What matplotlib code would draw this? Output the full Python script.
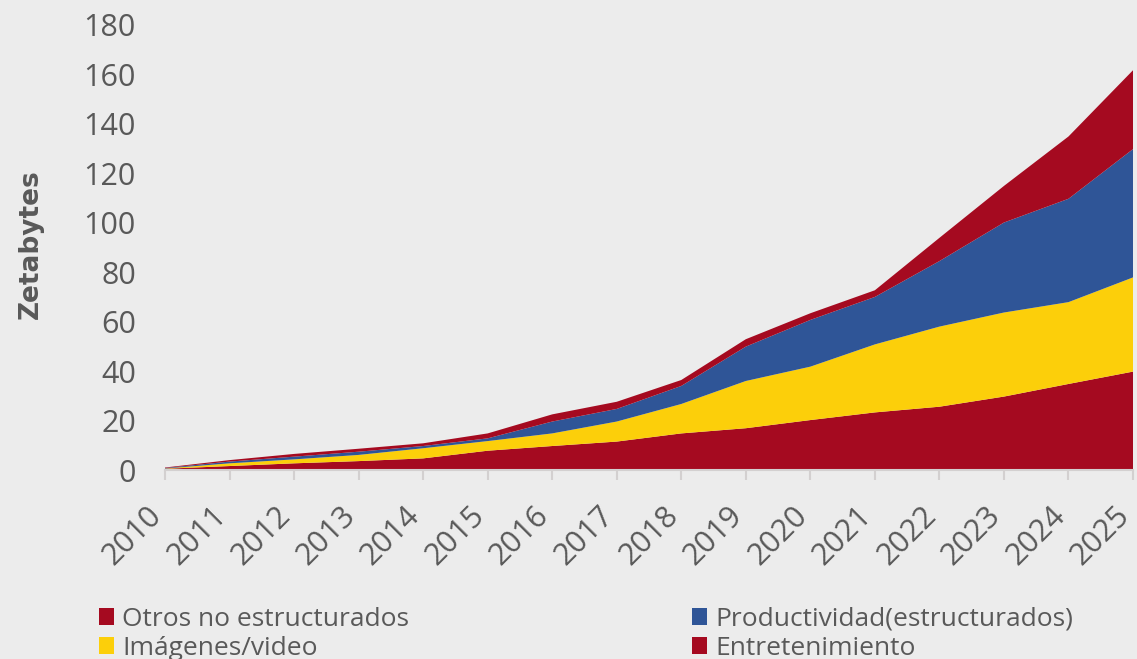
import matplotlib
matplotlib.use("Agg")
import matplotlib.pyplot as plt
import matplotlib.transforms as mtransforms
from matplotlib.patches import Patch

years = list(range(2010, 2026))
entretenimiento = [0.5, 1.6, 2.7, 3.6, 4.7, 7.8, 9.7, 11.5, 14.8, 16.9, 20.2, 23.3, 25.6, 29.7, 34.8, 39.8]
imagenes_video = [0.1, 1.1, 1.6, 2.5, 4.1, 3.9, 5.1, 8.1, 11.9, 19.1, 21.6, 27.5, 32.4, 34.0, 33.1, 38.1]
productividad = [0.2, 0.7, 1.1, 1.3, 0.9, 1.1, 4.8, 5.1, 7.3, 13.9, 18.9, 19.2, 26.5, 36.4, 41.8, 51.9]
otros = [0.2, 0.6, 1.1, 1.2, 1.1, 2.0, 2.9, 2.9, 2.4, 3.0, 2.7, 2.7, 9.4, 14.8, 25.2, 31.9]

series_names = ["Entretenimiento", "Imágenes/video", "Productividad(estructurados)", "Otros no estructurados"]
colors = ["#A50A20", "#FCCF0A", "#2F5597", "#A50A20"]
yticks = list(range(0, 181, 20))

BG = "#ececec"
TXT = "#595959"
FONT = ["Open Sans", "DejaVu Sans"]

fig = plt.figure(figsize=(11.37, 6.59), dpi=100, facecolor=BG)
ax = fig.add_axes([165/1137, 1-470/659, 968/1137, 445/659])
ax.set_facecolor("none")

ax.stackplot(years, entretenimiento, imagenes_video, productividad, otros,
             colors=colors, linewidth=0)

ax.set_xlim(years[0], years[-1])
ax.set_ylim(0, 180)
ax.set_yticks(yticks)
ax.set_yticklabels([str(v) for v in yticks], fontsize=22, color=TXT, family=FONT)
ax.set_xticks(years)
ax.set_xticklabels([str(y) for y in years], fontsize=22, color=TXT, family=FONT,
                   rotation=45, ha="right", va="top")
ax.tick_params(axis="y", length=0, pad=21)
ax.tick_params(axis="x", length=7, width=1.5, color="#d3d0d0", pad=15)

offset = mtransforms.ScaledTranslation(3/100, 0, fig.dpi_scale_trans)
for lbl in ax.get_xticklabels():
    lbl.set_transform(lbl.get_transform() + offset)

for s in ["left", "right", "top"]:
    ax.spines[s].set_visible(False)
ax.spines["bottom"].set_color("#d3d0d0")
ax.spines["bottom"].set_linewidth(1.5)

fig.text(31/1137, 1-244/659, "Zetabytes", rotation=90, ha="center", va="center",
         fontsize=19, fontweight="bold", color=TXT, family="DejaVu Sans")

def make_handle(i):
    return Patch(facecolor=colors[i], edgecolor="none")

leg_kw = dict(frameon=False, handlelength=0.57, handleheight=0.6,
              handletextpad=0.3, labelspacing=0.14, borderpad=0, borderaxespad=0,
              prop={"family": FONT, "size": 19}, labelcolor=TXT)
leg1 = fig.legend([make_handle(3), make_handle(1)], [series_names[3], series_names[1]],
                  loc="upper left", bbox_to_anchor=(99/1137, 1-607/659), **leg_kw)
leg2 = fig.legend([make_handle(2), make_handle(0)], [series_names[2], series_names[0]],
                  loc="upper left", bbox_to_anchor=(692/1137, 1-607/659), **leg_kw)

fig.savefig("out.png", dpi=100, facecolor=BG)
